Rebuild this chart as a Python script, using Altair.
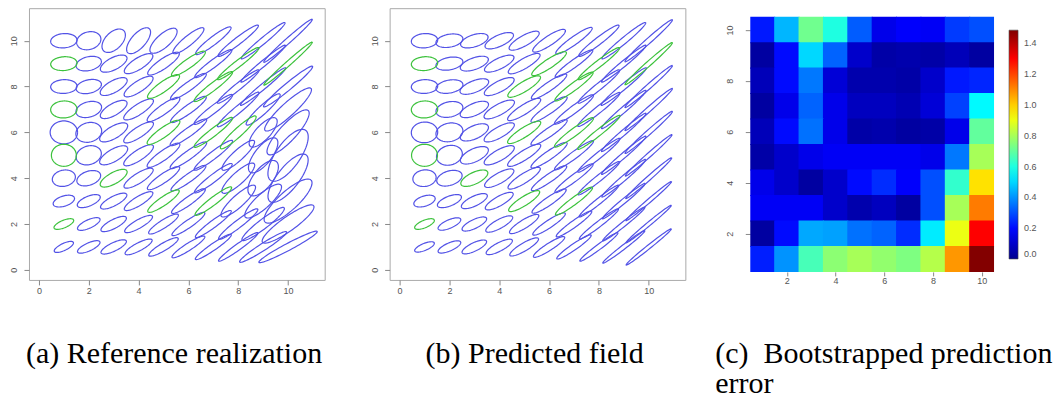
import altair as alt
import numpy as np
import pandas as pd

# ---------------- data ----------------
ROWS_Y = [10, 9, 8, 7, 6, 5, 4, 3, 2, 1]
COLS_X = [1, 2, 3, 4, 5, 6, 7, 8, 9, 10]
TICKS = [0, 2, 4, 6, 8, 10]
HEAT_TICKS = [2, 4, 6, 8, 10]

GREEN_CELLS = [(1, 9), (1, 7), (1, 5), (1, 2), (3, 4), (5, 8), (6, 9), (8, 9),
               (7, 8), (10, 9), (5, 6), (7, 6), (8, 6), (5, 3), (7, 3)]

# (b) predicted field: semi-major, semi-minor, angle (deg), rows y=10..1, cols x=1..10
A_PRED = [
    [0.53, 0.55, 0.58, 0.63, 0.70, 0.80, 0.92, 1.05, 1.18, 1.32],
    [0.53, 0.55, 0.60, 0.66, 0.75, 0.85, 0.95, 1.08, 1.20, 1.32],
    [0.53, 0.55, 0.62, 0.68, 0.78, 0.88, 0.98, 1.10, 1.22, 1.32],
    [0.53, 0.55, 0.62, 0.70, 0.80, 0.90, 1.00, 1.12, 1.22, 1.32],
    [0.53, 0.55, 0.62, 0.70, 0.80, 0.90, 1.00, 1.12, 1.22, 1.32],
    [0.52, 0.53, 0.62, 0.70, 0.80, 0.90, 1.00, 1.12, 1.22, 1.30],
    [0.47, 0.53, 0.60, 0.68, 0.78, 0.88, 0.98, 1.10, 1.20, 1.28],
    [0.45, 0.52, 0.58, 0.65, 0.75, 0.85, 0.95, 1.05, 1.15, 1.25],
    [0.43, 0.50, 0.55, 0.62, 0.70, 0.80, 0.90, 1.02, 1.12, 1.22],
    [0.43, 0.50, 0.55, 0.60, 0.68, 0.76, 0.86, 0.98, 1.10, 1.20],
]
B_PRED = [
    [0.31, 0.28, 0.26, 0.24, 0.22, 0.20, 0.17, 0.15, 0.13, 0.11],
    [0.30, 0.27, 0.25, 0.23, 0.21, 0.19, 0.16, 0.14, 0.12, 0.10],
    [0.30, 0.28, 0.25, 0.23, 0.21, 0.18, 0.16, 0.14, 0.12, 0.10],
    [0.37, 0.33, 0.26, 0.23, 0.20, 0.18, 0.16, 0.14, 0.12, 0.10],
    [0.45, 0.40, 0.28, 0.23, 0.20, 0.18, 0.16, 0.13, 0.11, 0.10],
    [0.48, 0.42, 0.28, 0.23, 0.20, 0.18, 0.15, 0.13, 0.11, 0.09],
    [0.36, 0.31, 0.25, 0.22, 0.20, 0.17, 0.15, 0.13, 0.11, 0.09],
    [0.22, 0.21, 0.21, 0.20, 0.19, 0.17, 0.15, 0.12, 0.10, 0.08],
    [0.16, 0.18, 0.19, 0.19, 0.18, 0.16, 0.14, 0.12, 0.10, 0.08],
    [0.15, 0.17, 0.18, 0.18, 0.17, 0.15, 0.13, 0.11, 0.09, 0.08],
]
ANG_PRED = [
    [5, 12, 20, 27, 32, 36, 38, 40, 42, 44],
    [5, 12, 22, 28, 33, 36, 38, 40, 42, 44],
    [3, 12, 24, 30, 34, 37, 39, 41, 42, 44],
    [3, 14, 26, 31, 35, 37, 39, 41, 43, 44],
    [5, 15, 27, 32, 35, 37, 39, 41, 43, 44],
    [0, 20, 28, 32, 35, 37, 39, 41, 43, 44],
    [10, 20, 28, 32, 35, 37, 39, 41, 43, 44],
    [20, 24, 28, 32, 35, 37, 39, 41, 42, 43],
    [25, 26, 28, 31, 34, 36, 38, 40, 41, 42],
    [25, 26, 28, 30, 33, 35, 37, 39, 40, 41],
]

# (a) reference realization
A_REF = [
    [0.53, 0.50, 0.60, 0.68, 0.72, 0.82, 0.92, 1.05, 1.18, 1.35],
    [0.53, 0.52, 0.60, 0.68, 0.78, 0.85, 0.95, 1.08, 1.20, 1.35],
    [0.53, 0.52, 0.62, 0.70, 0.80, 0.90, 1.00, 1.10, 1.22, 1.32],
    [0.53, 0.53, 0.62, 0.72, 0.82, 0.90, 1.00, 1.12, 0.95, 1.30],
    [0.55, 0.53, 0.65, 0.72, 0.82, 0.92, 1.00, 1.00, 0.80, 1.25],
    [0.50, 0.52, 0.65, 0.72, 0.82, 0.92, 1.00, 0.90, 0.90, 1.30],
    [0.47, 0.50, 0.62, 0.70, 0.80, 0.88, 0.98, 0.90, 0.90, 1.25],
    [0.45, 0.50, 0.60, 0.68, 0.78, 0.85, 0.95, 0.95, 1.00, 1.30],
    [0.43, 0.50, 0.58, 0.65, 0.72, 0.82, 0.92, 1.02, 1.10, 1.30],
    [0.43, 0.50, 0.57, 0.62, 0.70, 0.80, 0.90, 1.00, 1.15, 1.35],
]
B_REF = [
    [0.31, 0.38, 0.35, 0.30, 0.28, 0.20, 0.17, 0.15, 0.13, 0.11],
    [0.30, 0.30, 0.26, 0.24, 0.21, 0.19, 0.16, 0.14, 0.12, 0.10],
    [0.30, 0.29, 0.25, 0.23, 0.21, 0.18, 0.16, 0.14, 0.12, 0.15],
    [0.37, 0.33, 0.25, 0.22, 0.20, 0.18, 0.16, 0.15, 0.18, 0.28],
    [0.50, 0.42, 0.26, 0.22, 0.20, 0.18, 0.16, 0.18, 0.30, 0.35],
    [0.48, 0.40, 0.26, 0.22, 0.20, 0.18, 0.16, 0.22, 0.35, 0.50],
    [0.35, 0.30, 0.24, 0.21, 0.19, 0.17, 0.16, 0.25, 0.40, 0.45],
    [0.22, 0.21, 0.20, 0.19, 0.18, 0.17, 0.16, 0.25, 0.30, 0.40],
    [0.16, 0.18, 0.19, 0.18, 0.17, 0.16, 0.15, 0.16, 0.20, 0.30],
    [0.15, 0.17, 0.18, 0.17, 0.16, 0.15, 0.14, 0.13, 0.15, 0.15],
]
ANG_REF = [
    [5, 20, 50, 52, 45, 42, 40, 40, 42, 44],
    [5, 15, 30, 35, 37, 38, 39, 40, 42, 44],
    [3, 15, 32, 36, 38, 38, 40, 41, 42, 42],
    [3, 18, 33, 36, 38, 38, 40, 42, 45, 45],
    [0, 20, 33, 36, 38, 38, 40, 45, 50, 50],
    [0, 22, 33, 36, 38, 38, 40, 45, 55, 58],
    [15, 22, 32, 35, 37, 38, 40, 45, 55, 55],
    [20, 25, 30, 34, 37, 38, 40, 45, 45, 45],
    [25, 27, 30, 32, 35, 37, 39, 40, 40, 38],
    [28, 27, 28, 30, 33, 35, 37, 38, 35, 30],
]

# (c) bootstrapped prediction error, rows y=10..1, cols x=1..10
HEAT = [
    [0.22, 0.45, 0.72, 0.60, 0.32, 0.15, 0.18, 0.17, 0.27, 0.30],
    [0.03, 0.20, 0.50, 0.33, 0.10, 0.04, 0.05, 0.04, 0.07, 0.03],
    [0.07, 0.20, 0.36, 0.12, 0.05, 0.05, 0.04, 0.10, 0.22, 0.24],
    [0.03, 0.15, 0.33, 0.15, 0.08, 0.08, 0.06, 0.12, 0.28, 0.55],
    [0.07, 0.20, 0.35, 0.15, 0.04, 0.05, 0.03, 0.04, 0.15, 0.70],
    [0.04, 0.10, 0.15, 0.17, 0.17, 0.17, 0.17, 0.15, 0.36, 0.80],
    [0.15, 0.10, 0.03, 0.10, 0.20, 0.25, 0.18, 0.30, 0.63, 0.97],
    [0.17, 0.17, 0.17, 0.10, 0.05, 0.08, 0.03, 0.30, 0.80, 1.12],
    [0.03, 0.20, 0.43, 0.42, 0.35, 0.33, 0.25, 0.53, 0.90, 1.30],
    [0.23, 0.40, 0.66, 0.76, 0.80, 0.77, 0.74, 0.82, 1.08, 1.48],
]
LEGEND_VALUES = [0.0, 0.2, 0.4, 0.6, 0.8, 1.0, 1.2, 1.4]
JET_STOPS = [0.0, 0.1856, 0.557, 0.928, 1.299, 1.485]
JET_COLORS = ["#00008f", "#0000ff", "#00ffff", "#ffff00", "#ff0000", "#800000"]

CAPTION_A = "(a) Reference realization"
CAPTION_B = "(b) Predicted field"
CAPTION_C = ["(c)\u00a0 Bootstrapped prediction", "error"]

BLUE = "#5252e6"
GREEN = "#3cc23c"


# ---------------- helpers ----------------
def ellipse_frame(A, B, ANG):
    t = np.linspace(0, 2 * np.pi, 73)
    recs = []
    for r, yv in enumerate(ROWS_Y):
        for c, xv in enumerate(COLS_X):
            a, b, th = A[r][c], B[r][c], np.radians(ANG[r][c])
            xs = xv + a * np.cos(th) * np.cos(t) - b * np.sin(th) * np.sin(t)
            ys = yv + a * np.sin(th) * np.cos(t) + b * np.cos(th) * np.sin(t)
            grp = "green" if (xv, yv) in GREEN_CELLS else "blue"
            for k in range(len(t)):
                recs.append({"id": f"{xv}-{yv}", "k": k, "x": float(xs[k]),
                             "y": float(ys[k]), "grp": grp})
    return pd.DataFrame(recs)


def caption_title(text, dx, offset):
    return alt.TitleParams(text=text, orient="bottom", anchor="start",
                           frame="group", dx=dx, offset=offset, baseline="top",
                           align="left", lineHeight=30,
                           font="Liberation Serif", fontSize=30,
                           fontWeight="normal", color="black")


def ellipse_panel(df, caption, dx):
    xs = alt.Scale(domain=[-0.4, 11.47], nice=False, zero=False)
    ys = alt.Scale(domain=[-0.44, 11.42], nice=False, zero=False)
    xaxis = alt.Axis(values=TICKS, grid=False, domain=False, tickSize=5,
                     tickColor="#888", labelColor="#555", labelFontSize=9,
                     labelFont="Liberation Sans", labelPadding=2, title=None)
    yaxis = alt.Axis(values=TICKS, grid=False, domain=False, tickSize=5,
                     tickColor="#888", labelColor="#555", labelFontSize=9,
                     labelFont="Liberation Sans", labelPadding=5, labelAngle=270,
                     labelAlign="center", labelBaseline="bottom", title=None)
    layers = []
    for grp, col in (("blue", BLUE), ("green", GREEN)):
        layers.append(
            alt.Chart(df).transform_filter(alt.datum.grp == grp)
            .mark_line(strokeWidth=1.2, color=col)
            .encode(x=alt.X("x:Q", scale=xs, axis=xaxis),
                    y=alt.Y("y:Q", scale=ys, axis=yaxis),
                    detail="id:N", order="k:Q")
        )
    return alt.layer(*layers).properties(
        width=296, height=272,
        title=caption_title(caption, dx, 43),
        view=alt.ViewBackground(stroke="#aaa", strokeWidth=1),
    )


# ---------------- panels ----------------
panel_a = ellipse_panel(ellipse_frame(A_REF, B_REF, ANG_REF), CAPTION_A, -3)
panel_b = ellipse_panel(ellipse_frame(A_PRED, B_PRED, ANG_PRED), CAPTION_B, 36)

heat_df = pd.DataFrame([
    {"x": xv, "y": yv, "v": HEAT[r][c]}
    for r, yv in enumerate(ROWS_Y) for c, xv in enumerate(COLS_X)
])
jet = alt.Scale(domain=JET_STOPS, range=JET_COLORS, interpolate="rgb")
panel_c = (
    alt.Chart(heat_df)
    .transform_calculate(x0="datum.x - 0.52", x1="datum.x + 0.52",
                         y0="datum.y - 0.52", y1="datum.y + 0.52")
    .mark_rect(clip=True)
    .encode(
        x=alt.X("x0:Q", scale=alt.Scale(domain=[0.5, 10.5], nice=False, zero=False),
                axis=alt.Axis(values=HEAT_TICKS, grid=False, domain=False, tickSize=4,
                              tickColor="#888", labelColor="#555", labelFontSize=9,
                              labelFont="Liberation Sans", labelPadding=1, title=None)),
        x2="x1:Q",
        y=alt.Y("y0:Q", scale=alt.Scale(domain=[0.5, 10.853], nice=False, zero=False),
                axis=alt.Axis(values=HEAT_TICKS, grid=False, domain=False, tickSize=5,
                              tickColor="#888", labelColor="#555", labelFontSize=9,
                              labelFont="Liberation Sans", labelPadding=11,
                              labelAngle=270, labelAlign="center",
                              labelBaseline="bottom", title=None)),
        y2="y1:Q",
        fill=alt.Fill("v:Q", scale=jet,
                      legend=alt.Legend(type="gradient", orient="none",
                                        legendX=981, legendY=22,
                                        direction="vertical", gradientLength=229,
                                        gradientThickness=9, title=None,
                                        values=LEGEND_VALUES, format=".1f",
                                        labelFontSize=9, labelColor="#555",
                                        labelFont="Liberation Sans", labelOffset=6,
                                        padding=0, gradientStrokeColor="#444",
                                        gradientStrokeWidth=0.6)),
    )
    .properties(
        width=244, height=264,
        title=caption_title(CAPTION_C, -35, 53),
        view=alt.ViewBackground(strokeOpacity=0),
    )
)

chart = (
    alt.hconcat(panel_a, panel_b, panel_c, spacing=65, bounds="flush")
    .properties(padding={"left": 9, "top": 7, "right": 0, "bottom": 0})
    .configure(background="white")
)

chart.save("out.html", embed_options={"renderer": "svg", "actions": False})
